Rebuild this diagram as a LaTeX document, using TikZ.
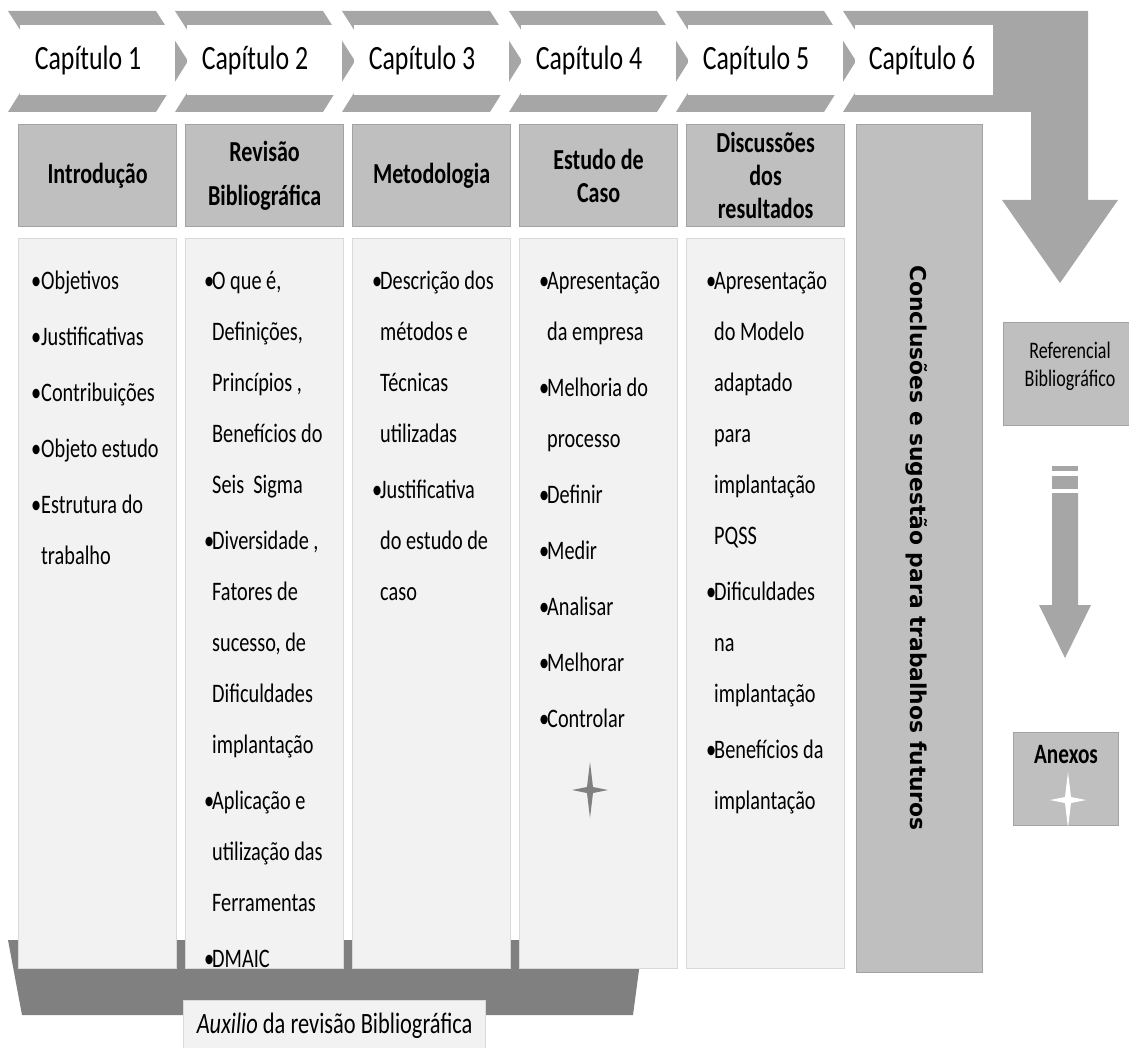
\documentclass[tikz,border=0pt]{standalone}
\usepackage{fontspec}
\usepackage{xcolor}
\usepackage{tikz}
\usetikzlibrary{positioning}
\setmainfont{Carlito}[FakeStretch=0.76]
\newfontfamily\dejavu{DejaVu Sans}

\definecolor{chev}{HTML}{A6A6A6}
\definecolor{headfill}{HTML}{BFBFBF}
\definecolor{headline}{HTML}{A3A3A3}
\definecolor{bodyfill}{HTML}{F2F2F2}
\definecolor{bodyline}{HTML}{D9D9D9}
\definecolor{basegray}{HTML}{808080}

\newcommand{\itm}{\makebox[8pt][l]{\textbullet}}
\newcommand{\cnt}{\hspace*{8pt}}
\newcommand{\fst}{\rule{0pt}{21pt}}

\begin{document}
\begin{tikzpicture}[x=1pt, y=-1pt,
	chapter/.style={inner sep=0pt, font=\fontsize{34}{38}\selectfont},
	headbox/.style={draw=headline, fill=headfill, line width=1.2pt, minimum width=158pt, minimum height=102pt, anchor=north west, align=center, font=\bfseries\fontsize{29}{33}\selectfont},
	bodybox/.style={draw=bodyline, fill=bodyfill, line width=1.2pt, minimum width=158pt, minimum height=730pt},
	bodytext/.style={anchor=north west, inner sep=0pt, align=left, font=\fontsize{26.7}{51}\selectfont},
	sparkle/.pic={\fill (0,-28) -- (3,-3) -- (18,0) -- (3,3) -- (0,28) -- (-3,3) -- (-18,0) -- (-3,-3) -- cycle;}]
	\useasboundingbox (0,0) rectangle (1129,1048);
	% chapters
	\foreach \i [evaluate=\i as \L using 8+167*\i, evaluate=\i as \n using int(\i+1)] in {0,...,4} {
		\fill[chev] (\L,11) -- ++(148,0) -- ++(32,50) -- ++(-32,51) -- ++(-148,0) -- ++(32,-51) -- cycle;
		\fill[white] (\L+12,25) rectangle (\L+167,95);
		\node[chapter] (cap\n) at (\L+80,60) {Capítulo \n};
	}
	\fill[chev] (843,11) -- (1088,11) -- (1088,200) -- (1118,200) -- (1060,283) -- (1002,200) -- (1031,200) -- (1031,112) -- (843,112) -- (875,61) -- cycle;
	\fill[white] (855,25) rectangle (993,95);
	\node[chapter] (cap6) at (922,60) {Capítulo 6};
	% base
	\fill[basegray] (8,940) -- (643,940) -- (633,1015) -- (22,1015) -- cycle;
	\node[draw=bodyline, fill=bodyfill, line width=1.2pt, anchor=north west, minimum width=302pt, minimum height=50pt, font=\fontsize{29.5}{32}\selectfont] (aux) at (183,1000) {\textit{Auxilio} da revisão Bibliográfica};
	% headers
	\node[headbox] (head1) at (18,124) {Introdução};
	\node[headbox] (head2) at (185,124) {Revisão\\[11pt]Bibliográfica};
	\node[headbox] (head3) at (352,124) {Metodologia};
	\node[headbox] (head4) at (519,124) {Estudo de\\Caso};
	\node[headbox] (head5) at (686,124) {Discussões\\dos\\resultados};
	\foreach \n in {1,...,5}
		\node[bodybox, below=11pt of head\n.south west, anchor=north west] (body\n) {};
	% items
	\node[bodytext] (txt1) at ([xshift=13pt, yshift=-30pt]body1.north west) {\fst\makebox[10pt][l]{\textbullet}Objetivos\\[5pt]
		\makebox[10pt][l]{\textbullet}Justificativas\\[5pt]
		\makebox[10pt][l]{\textbullet}Contribuições\\[5pt]
		\makebox[10pt][l]{\textbullet}Objeto estudo\\[5pt]
		\makebox[10pt][l]{\textbullet}Estrutura do\\
		\hspace*{10pt}trabalho};
	\node[bodytext] (txt2) at ([xshift=19pt, yshift=-30pt]body2.north west) {\fst\itm O que é,\\ \cnt Definições,\\ \cnt Princípios ,\\ \cnt Benefícios do\\ \cnt Seis\ \ Sigma\\[5pt]
		\itm Diversidade ,\\ \cnt Fatores de\\ \cnt sucesso, de\\ \cnt Dificuldades\\ \cnt implantação\\[5pt]
		\itm Aplicação e\\ \cnt utilização das\\ \cnt Ferramentas\\[5pt]
		\itm DMAIC};
	\node[bodytext] (txt3) at ([xshift=20pt, yshift=-30pt]body3.north west) {\fst\itm Descrição dos\\ \cnt métodos e\\ \cnt Técnicas\\ \cnt utilizadas\\[5pt]
		\itm Justificativa\\ \cnt do estudo de\\ \cnt caso};
	\node[bodytext] (txt4) at ([xshift=20pt, yshift=-30pt]body4.north west) {\fst\itm Apresentação\\ \cnt da empresa\\[5pt]
		\itm Melhoria do\\ \cnt processo\\[5pt]
		\itm Definir\\[5pt]
		\itm Medir\\[5pt]
		\itm Analisar\\[5pt]
		\itm Melhorar\\[5pt]
		\itm Controlar};
	\node[bodytext] (txt5) at ([xshift=20pt, yshift=-30pt]body5.north west) {\fst\itm Apresentação\\ \cnt do Modelo\\ \cnt adaptado\\ \cnt para\\ \cnt implantação\\ \cnt PQSS\\[5pt]
		\itm Dificuldades\\ \cnt na\\ \cnt implantação\\[5pt]
		\itm Benefícios da\\ \cnt implantação};
	\pic[color=basegray] at (590,790) {sparkle};
	% conclusions
	\node[draw=headline, fill=headfill, line width=1.2pt, anchor=north west, minimum width=126pt, minimum height=848pt] (concl) at (856,124) {};
	\node[rotate=-90, font=\dejavu\bfseries\fontsize{21.8}{26}\selectfont] (concltxt) at (917,548) {Conclusões e sugestão para trabalhos futuros};
	% right side
	\node[draw=headline, fill=headfill, line width=1.2pt, anchor=north west, minimum width=130pt, minimum height=103pt] (ref) at (1003,322) {};
	\node[align=center, font=\fontsize{23.7}{28}\selectfont] (reftxt) at (1070,366) {Referencial\\Bibliográfico};
	\fill[chev] (1052,466) rectangle (1078,471);
	\fill[chev] (1052,476) rectangle (1078,489);
	\fill[chev] (1052,493) -- (1078,493) -- (1078,605) -- (1091,605) -- (1065,658) -- (1039,605) -- (1052,605) -- cycle;
	\node[draw=headline, fill=headfill, line width=1.2pt, anchor=north west, minimum width=105pt, minimum height=93pt] (anx) at (1013,732) {};
	\node[font=\bfseries\fontsize{28}{30}\selectfont] (anxtxt) at (1066,755) {Anexos};
	\pic[color=white] at (1068,800) {sparkle};
\end{tikzpicture}
\end{document}
